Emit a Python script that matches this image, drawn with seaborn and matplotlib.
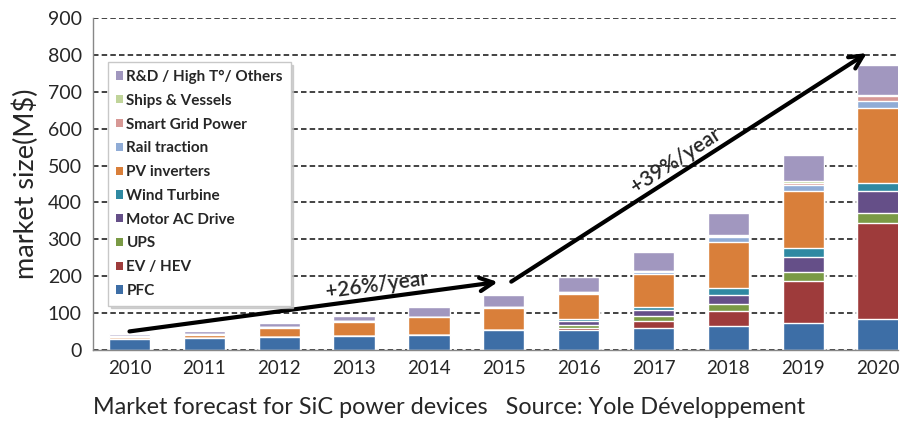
import numpy as np
import pandas as pd
import matplotlib
matplotlib.use("Agg")
import matplotlib.pyplot as plt
from matplotlib.patches import Patch
import seaborn as sns

years = [str(y) for y in range(2010, 2021)]

# market size per segment, M$
pfc = [29, 31, 35, 37, 41, 54, 54, 59, 65, 72, 84]
ev_hev = [0, 0, 0, 0, 0, 0, 6, 20, 41, 116, 259]
ups = [0, 0, 0, 0, 0, 0, 7, 13, 18, 24, 29]
motor = [0, 0, 0, 0, 0, 0, 10, 16, 26, 41, 59]
wind = [0, 0, 0, 0, 0, 0, 7, 9, 17, 23, 23]
pv = [5, 10, 24, 38, 47, 59, 67, 90, 126, 156, 203]
rail = [3, 2, 2, 2, 2, 2, 4, 4, 12, 14, 18]
smart = [0, 0, 0, 0, 0, 0, 2, 2, 4, 8, 14]
ships = [0, 0, 0, 0, 0, 0, 1, 2, 3, 5, 2]
rnd = [6, 8, 11, 16, 25, 34, 39, 51, 58, 69, 81]

segments = ["PFC", "EV / HEV", "UPS", "Motor AC Drive", "Wind Turbine",
            "PV inverters", "Rail traction", "Smart Grid Power",
            "Ships & Vessels", "R&D / High T°/ Others"]
colors = ["#3d6ea6", "#9e3b3b", "#7a9a45", "#654f88", "#2f89a2",
          "#d97f3a", "#90acd6", "#d79895", "#c0d49a", "#a197bf"]

values = np.array([pfc, ev_hev, ups, motor, wind, pv, rail, smart, ships, rnd], dtype=float)
cum = values.cumsum(axis=0)

rows = []
for i, seg in enumerate(segments):
    for j, yr in enumerate(years):
        rows.append({"year": yr, "segment": seg, "cum": cum[i, j]})
df = pd.DataFrame(rows)

sns.set_style("white")
plt.rcParams["font.family"] = ["Lato", "DejaVu Sans"]

fig, ax = plt.subplots(figsize=(9.01, 4.21), dpi=100)
fig.subplots_adjust(left=0.103, right=0.997, bottom=0.169, top=0.957)

ax.set_axisbelow(True)
ax.yaxis.grid(True, color="#222222", linestyle=(0, (3.3, 1.9)), linewidth=1.2)

# stacked bars: draw cumulative totals from the top layer down
sns.barplot(data=df, x="year", y="cum", hue="segment",
            hue_order=segments[::-1], palette=colors[::-1],
            dodge=False, width=0.55, edgecolor="white", linewidth=1,
            saturation=1, errorbar=None, legend=False, ax=ax)

ax.set_ylim(0, 900)
ax.set_yticks(range(0, 1000, 100))
ax.set_xlim(-0.49, 10.27)
ax.set_xlabel("")
ax.set_ylabel("market size(M$)", fontsize=19.5, labelpad=6)

ax.set_xticks(np.arange(0.5, 10.5, 1), minor=True)
ax.tick_params(axis="x", which="major", length=0, labelsize=13.5, pad=7)
ax.tick_params(axis="x", which="minor", length=5, color="#777777", width=1)
ax.tick_params(axis="y", length=4, color="#777777", labelsize=14, pad=4)

sns.despine(ax=ax)
for s in ["left", "bottom"]:
    ax.spines[s].set_color("#888888")
    ax.spines[s].set_linewidth(1)

handles = [Patch(facecolor=c, edgecolor="none") for c in colors[::-1]]
ax.legend(handles, segments[::-1], loc="upper left", bbox_to_anchor=(0.019, 0.867),
          borderaxespad=0, frameon=True, fancybox=False, edgecolor="#c8c8c8",
          shadow={"color": "0.75", "alpha": 0.7},
          prop={"weight": "bold", "size": 11},
          handlelength=0.45, handleheight=0.45, handletextpad=0.25,
          labelspacing=0.64, borderpad=0.5)

ax.annotate("", xy=(4.92, 184), xytext=(0, 50),
            arrowprops=dict(arrowstyle="->", lw=3, color="black",
                            mutation_scale=24, shrinkA=0, shrinkB=0))
ax.annotate("", xy=(9.85, 805), xytext=(5.1, 185),
            arrowprops=dict(arrowstyle="->", lw=3, color="black",
                            mutation_scale=24, shrinkA=0, shrinkB=0))
ax.text(3.3, 175, "+26%/year", rotation=7.5, ha="center", va="center",
        rotation_mode="anchor", fontsize=15, weight="semibold")
ax.text(7.3, 514, "+39%/year", rotation=33, ha="center", va="center",
        rotation_mode="anchor", fontsize=15, weight="semibold")

fig.text(0.103, 0.031, "Market forecast for SiC power devices   Source: Yole Développement",
         fontsize=16.8, va="center", ha="left")

fig.savefig("out.png", dpi=100)
